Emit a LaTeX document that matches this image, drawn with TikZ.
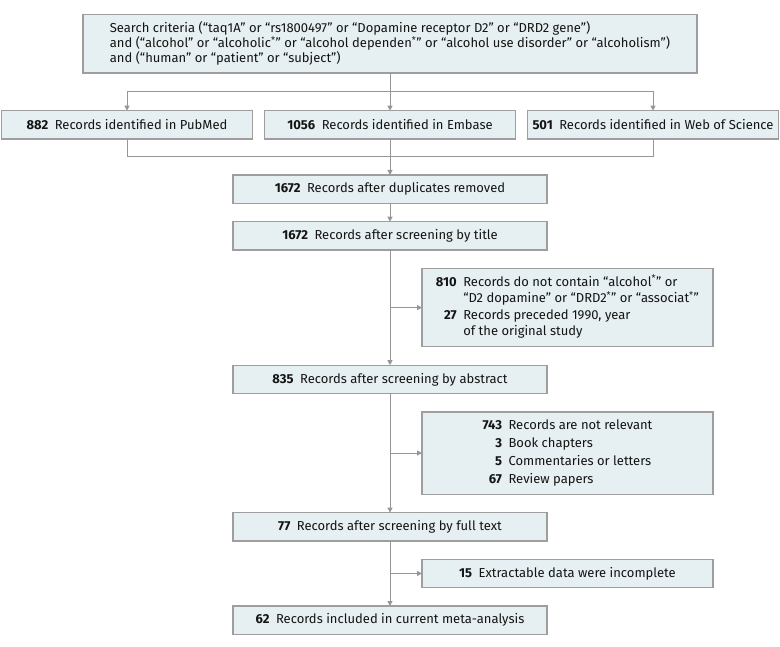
\documentclass[tikz,border=0pt]{standalone}
\usepackage{fontspec}
\setmainfont{Fira Sans}
\usepackage{tikz}
\usetikzlibrary{positioning,arrows.meta,calc}

\definecolor{boxfill}{RGB}{230,239,242}
\definecolor{boxline}{RGB}{158,158,158}
\definecolor{flowline}{RGB}{150,150,150}
\definecolor{txt}{RGB}{20,20,20}

\begin{document}
\begin{tikzpicture}[x=1pt,y=1pt,
    node distance=18.4pt,
    box/.style={draw=boxline,line width=1.2pt,fill=boxfill,text=txt,
      inner sep=0pt,outer sep=0pt,minimum height=28.3pt,
      font=\fontsize{13}{15}\selectfont},
    mainbox/.style={box,minimum width=314pt},
    srcbox/.style={box,minimum width=251pt},
    sidebox/.style={box,minimum width=291pt},
    flow/.style={draw=flowline,color=flowline,line width=1pt},
    arr/.style={flow,-{Triangle[length=5pt,width=5pt]}}]
            \useasboundingbox (0,0) rectangle (780,-647);
            \node[box,minimum width=614pt,minimum height=58.7pt,align=left,anchor=north](crit) at (390,-14.3)
                {Search criteria (“taq1A” or “rs1800497” or “Dopamine receptor D2” or “DRD2 gene”)\\
                 and (“alcohol” or “alcoholic\textsuperscript{*}” or “alcohol dependen\textsuperscript{*}” or “alcohol use disorder” or “alcoholism”)\\
                 and (“human” or “patient” or “subject”)};
            \node[srcbox](emb)[below =37.7pt of crit]{\textbf{1056}\enspace Records identified in Embase};
            \node[srcbox](pub)[left =12pt of emb]{\textbf{882}\enspace Records identified in PubMed};
            \node[srcbox](wos)[right =12pt of emb]{\textbf{501}\enspace Records identified in Web of Science};
            \node[mainbox](dup)[below =36pt of emb]{\textbf{1672}\enspace Records after duplicates removed};
            \node[mainbox](title)[below =of dup]{\textbf{1672}\enspace Records after screening by title};
            \node[sidebox,minimum height=78.4pt](ex1)[below =of title,xshift=177.5pt]
                {\renewcommand\arraystretch{1.1}%
                 \begin{tabular}{@{}r@{\enspace}l@{}}
                 \textbf{810} & Records do not contain “alcohol\textsuperscript{*}” or\\
                              & “D2 dopamine” or “DRD2\textsuperscript{*}” or “associat\textsuperscript{*}”\\
                 \textbf{27}  & Records preceded 1990, year\\
                              & of the original study
                 \end{tabular}};
            \node[mainbox](abs)[below =of ex1,xshift=-177.5pt]{\textbf{835}\enspace Records after screening by abstract};
            \node[sidebox,minimum height=82.3pt](ex2)[below =of abs,xshift=177.5pt]
                {\renewcommand\arraystretch{1.2}%
                 \begin{tabular}{@{}r@{\enspace}l@{}}
                 \textbf{743} & Records are not relevant\\
                 \textbf{3}   & Book chapters\\
                 \textbf{5}   & Commentaries or letters\\
                 \textbf{67}  & Review papers
                 \end{tabular}};
            \node[mainbox](full)[below =of ex2,xshift=-177.5pt]{\textbf{77}\enspace Records after screening by full text};
            \node[sidebox](ex3)[below =of full,xshift=177.5pt]{\textbf{15}\enspace Extractable data were incomplete};
            \node[mainbox](incl)[below =of ex3,xshift=-177.5pt]{\textbf{62}\enspace Records included in current meta-analysis};
            % split and merge points
            \coordinate (split) at ($(crit.south)!0.5!(emb.north)$);
            \coordinate (merge) at ($(emb.south)!0.5!(dup.north)$);
            \draw[flow] (crit) -- (split);
            \draw[arr] (split) -| (pub);
            \draw[arr] (split) -| (wos);
            \draw[flow] (pub) |- (merge);
            \draw[flow] (wos) |- (merge);
            \path (split) edge[arr] (emb)
                  (emb) edge[arr] (dup)
                  (dup) edge[arr] (title)
                  (title) edge[arr] (abs)
                  (abs) edge[arr] (full)
                  (full) edge[arr] (incl);
            % branches to the excluded records
            \draw[arr] (title.south |- ex1.west) -- (ex1.west);
            \draw[arr] (abs.south |- ex2.west) -- (ex2.west);
            \draw[arr] (full.south |- ex3.west) -- (ex3.west);
        \end{tikzpicture}
\end{document}
